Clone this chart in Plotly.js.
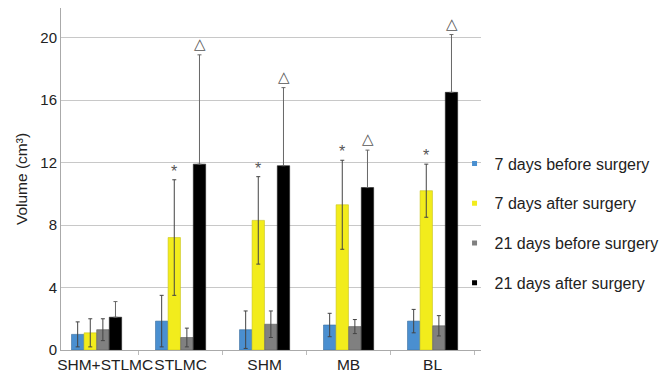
<!DOCTYPE html>
<html>
<head>
<meta charset="utf-8">
<script src="https://cdn.plot.ly/plotly-3.0.1.min.js"></script>
<style>html,body{margin:0;padding:0;background:#fff;}#chart{width:672px;height:375px;}</style>
</head>
<body>
<div id="chart"></div>
<script>
// Data
const categories = ["SHM+STLMC", "STLMC", "SHM", "MB", "BL"];
const seriesNames = ["7 days before surgery", "7 days after surgery", "21 days before surgery", "21 days after surgery"];
const before7 = [1.0, 1.85, 1.3, 1.6, 1.85];
const before7Err = [0.8, 1.65, 1.2, 0.75, 0.75];
const after7 = [1.1, 7.2, 8.3, 9.3, 10.2];
const after7Err = [0.9, 3.7, 2.8, 2.85, 1.7];
const before21 = [1.3, 0.8, 1.65, 1.5, 1.55];
const before21Err = [0.7, 0.6, 0.85, 0.45, 0.65];
const after21 = [2.1, 11.9, 11.8, 10.4, 16.5];
const after21Err = [1.0, 7.0, 5.0, 2.4, 3.7];
const starMarks = [false, true, true, true, true];     // "*" above 7 days after surgery
const triangleMarks = [false, true, true, true, true]; // "△" above 21 days after surgery
const yTicks = [0, 4, 8, 12, 16, 20];

const colors = ["#4a8fd0", "#f2ec1c", "#808080", "#000000"];
const outline = ["#3b6f9e", "#c8c21a", "#5a5a5a", "#222222"];
const values = [before7, after7, before21, after21];
const errors = [before7Err, after7Err, before21Err, after21Err];

const traces = [];
for (let i = 0; i < 4; i++) {
  const err = {type: "data", array: errors[i], visible: true, color: "#444", thickness: 1, width: 2};
  if (i === 3) { err.symmetric = false; err.arrayminus = errors[i].map(() => 0); err.color = "#666"; }
  traces.push({
    type: "bar", x: categories, y: values[i], name: seriesNames[i], showlegend: false,
    marker: {color: colors[i], line: {color: outline[i], width: 0.6}},
    error_y: err
  });
}
for (let i = 0; i < 4; i++) {
  traces.push({
    type: "scatter", mode: "markers", x: [null], y: [null], name: seriesNames[i],
    legendgroup: "g" + i,
    marker: {symbol: "square", size: 5, color: colors[i]}
  });
}

const barStep = 12.75; // px per bar within group
const annotations = [];
categories.forEach((c, k) => {
  if (starMarks[k]) annotations.push({
    x: c, y: after7[k] + after7Err[k], xref: "x", yref: "y", text: "*", showarrow: false,
    xshift: -0.5 * barStep, yanchor: "bottom", yshift: -2,
    font: {family: "Liberation Sans, Arial, sans-serif", size: 16, color: "#555"}
  });
  if (triangleMarks[k]) annotations.push({
    x: c, y: after21[k] + after21Err[k], xref: "x", yref: "y", text: "△", showarrow: false,
    xshift: 1.5 * barStep, yanchor: "bottom", yshift: 0,
    font: {family: "DejaVu Sans, sans-serif", size: 15, color: "#555"}
  });
});

// first label nudged right (as in the reference) so it clears the "0" tick label
const tickText = categories.map((c, k) => k === 0 ? "\u00a0\u00a0\u00a0\u00a0" + c : c);

const layout = {
  width: 672, height: 375,
  margin: {l: 61, r: 186, t: 8, b: 25, pad: 0},
  paper_bgcolor: "#fff", plot_bgcolor: "#fff",
  font: {family: "Liberation Sans, Arial, sans-serif", size: 15, color: "#333"},
  barmode: "group", bargap: 0.4, bargroupgap: 0.02,
  xaxis: {
    type: "category", range: [-0.4235, 4.5765], tickson: "boundaries", ticks: "outside", ticklen: 4, tickcolor: "#bbb",
    tickvals: categories, ticktext: tickText,
    showline: true, linecolor: "#aaa", linewidth: 1, showgrid: false, tickangle: 0,
    tickfont: {size: 15.5, color: "#222"}, fixedrange: true
  },
  yaxis: {
    range: [0, 21.9], tickvals: yTicks, ticktext: yTicks.map(String),
    showgrid: true, gridcolor: "#c8c8c8", gridwidth: 1, zeroline: false,
    showline: true, linecolor: "#aaa", linewidth: 1, ticks: "",
    tickfont: {size: 15, color: "#222"},
    title: {text: "Volume (cm³)", font: {size: 15.5, color: "#222"}, standoff: 8}
  },
  legend: {
    x: 0.937, xanchor: "left", y: 0.595, yanchor: "top",
    bgcolor: "rgba(0,0,0,0)", tracegroupgap: 16, traceorder: "grouped",
    font: {size: 16, color: "#222"}
  },
  annotations: annotations
};

Plotly.newPlot("chart", traces, layout, {displayModeBar: false, staticPlot: true});
</script>
</body>
</html>
